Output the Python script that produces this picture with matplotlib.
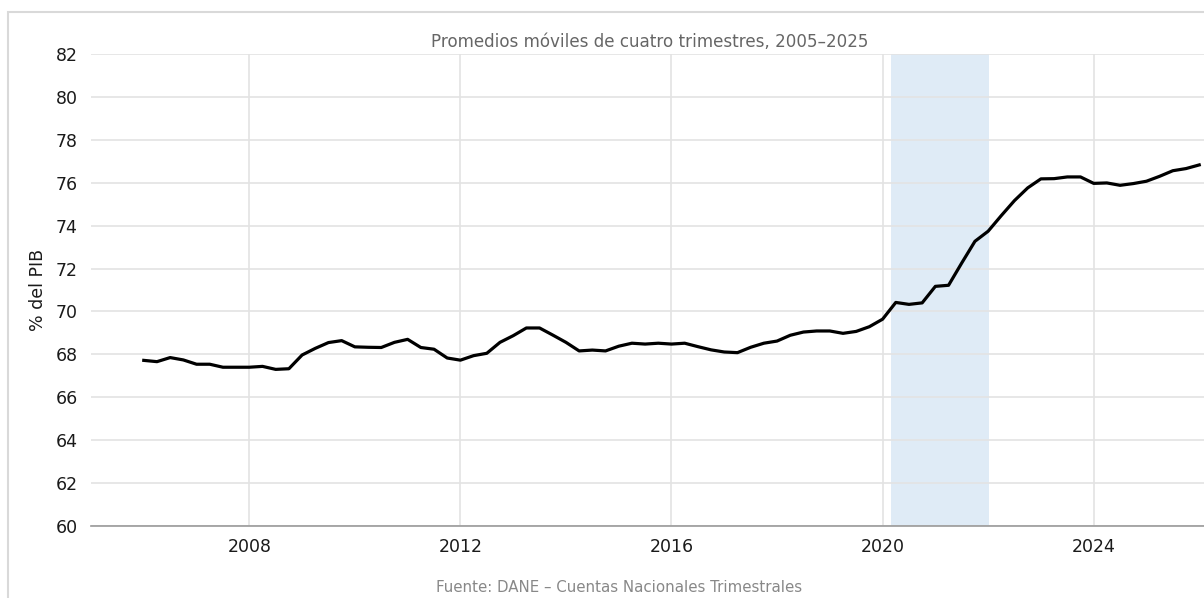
import matplotlib
matplotlib.use("Agg")
import matplotlib.pyplot as plt
from matplotlib.patches import Rectangle
import numpy as np

# Quarterly points (quarter-end position), 4-quarter moving average, % of GDP
quarters = np.arange(2006.0, 2026.01, 0.25)
values = [
    67.72, 67.66, 67.85, 67.74, 67.54, 67.54, 67.40, 67.40,   # 2006.00 - 2007.75
    67.40, 67.44, 67.30, 67.33, 67.97, 68.28, 68.55, 68.64,   # 2008.00 - 2009.75
    68.35, 68.33, 68.32, 68.56, 68.70, 68.32, 68.24, 67.83,   # 2010.00 - 2011.75
    67.73, 67.94, 68.05, 68.56, 68.87, 69.23, 69.23, 68.90,   # 2012.00 - 2013.75
    68.56, 68.16, 68.20, 68.16, 68.38, 68.52, 68.48, 68.52,   # 2014.00 - 2015.75
    68.48, 68.52, 68.36, 68.21, 68.11, 68.08, 68.33, 68.52,   # 2016.00 - 2017.75
    68.62, 68.89, 69.04, 69.09, 69.09, 68.98, 69.07, 69.29,   # 2018.00 - 2019.75
    69.64, 70.42, 70.33, 70.40, 71.17, 71.22, 72.26, 73.27,   # 2020.00 - 2021.75
    73.74, 74.47, 75.17, 75.76, 76.18, 76.19, 76.27, 76.27,   # 2022.00 - 2023.75
    75.97, 75.99, 75.88, 75.96, 76.07, 76.30, 76.56, 76.66,   # 2024.00 - 2025.75
    76.83,                                                     # 2026.00
]
shade_start, shade_end = 2020.16, 2022.02
x_ticks = [2008, 2012, 2016, 2020, 2024]
y_ticks = list(range(60, 83, 2))

title = "Promedios móviles de cuatro trimestres, 2005–2025"
ylabel = "% del PIB"
source = "Fuente: DANE – Cuentas Nacionales Trimestrales"

W, H = 1204, 598
fig = plt.figure(figsize=(W / 100, H / 100), dpi=100)
fig.patch.set_facecolor("white")

# figure border (cropped on right/bottom)
fig.patches.append(Rectangle((8 / W, -0.1), 1.2, (H - 12) / H + 0.1,
                             transform=fig.transFigure, fill=False,
                             edgecolor="#d9d9d9", linewidth=1.5))

ax = fig.add_axes([91 / W, 72 / H, 1161 / W, 472 / H])
ax.set_facecolor("white")
ax.axvspan(shade_start, shade_end, color="#c6dbef", alpha=0.55, lw=0, zorder=0)
ax.plot(quarters, values, color="black", lw=2.3, zorder=3)

ax.set_xlim(2005, 2027)
ax.set_ylim(60, 82)
ax.set_xticks(x_ticks)
ax.set_yticks(y_ticks)
ax.grid(True, color="#e3e3e3", lw=1.2, zorder=1)
ax.set_axisbelow(True)
for s in ["top", "right", "left"]:
    ax.spines[s].set_visible(False)
ax.spines["bottom"].set_color("#999999")
ax.spines["bottom"].set_linewidth(1.2)
ax.tick_params(axis="both", length=0, labelsize=12.5, colors="#1a1a1a")
ax.tick_params(axis="y", pad=9.5)
ax.tick_params(axis="x", pad=9)

fig.text(38 / W, 1 - 290 / H, ylabel, rotation=90, ha="center", va="center",
         fontsize=12.5, color="#1a1a1a")
fig.text(650 / W, 1 - 42 / H, title, ha="center", va="center",
         fontsize=12.1, color="#666666")
fig.text(619 / W, 1 - 588 / H, source, ha="center", va="center",
         fontsize=10.8, color="#888888")

fig.savefig("out.png", dpi=100)
